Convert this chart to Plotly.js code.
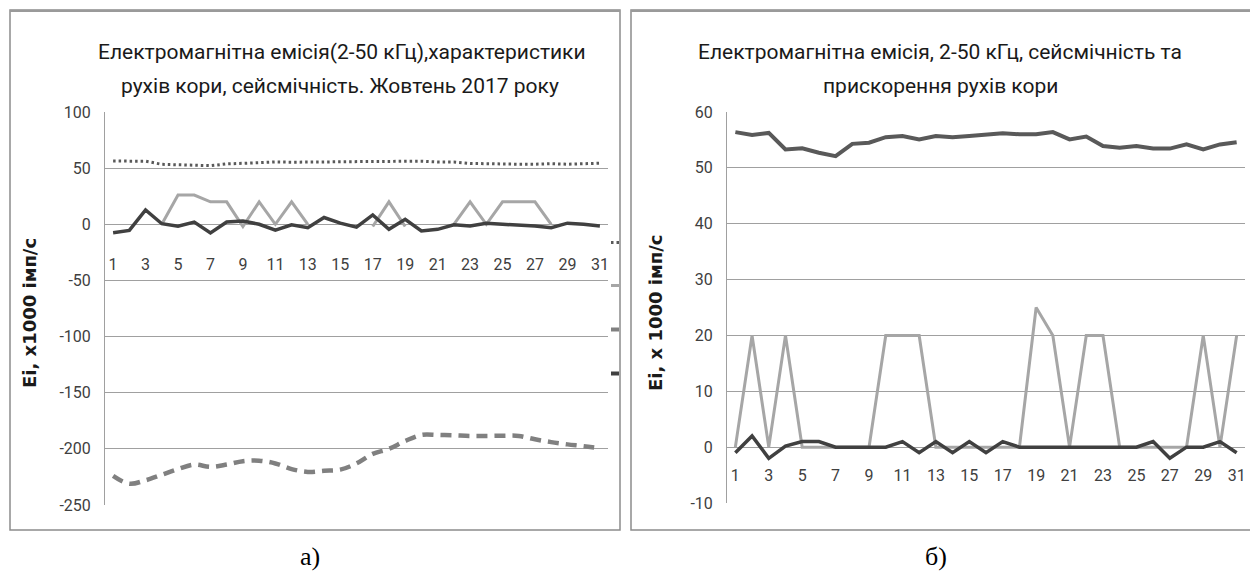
<!DOCTYPE html>
<html><head><meta charset="utf-8">
<script src="https://cdn.plot.ly/plotly-3.0.1.min.js"></script>
<style>html,body{margin:0;padding:0;background:#fff}#chart{width:1250px;height:575px}</style>
</head><body><div id="chart"></div>
<script>
// ---- data ----
const days = [1,2,3,4,5,6,7,8,9,10,11,12,13,14,15,16,17,18,19,20,21,22,23,24,25,26,27,28,29,30,31];
const tickDays = [1,3,5,7,9,11,13,15,17,19,21,23,25,27,29,31];
const tickText = ['1','3','5','7','9','11','13','15','17','19','21','23','25','27','29','31'];
const yTicksA = [-250,-200,-150,-100,-50,0,50,100];
const yTextA = ['-250','-200','-150','-100','-50','0','50','100'];
const yTicksB = [-10,0,10,20,30,40,50,60];
const yTextB = ['-10','0','10','20','30','40','50','60'];
// chart a)
const emissionA = [56.3,56.0,56.2,53.4,53.3,52.6,52.2,53.8,54.3,55.2,55.5,55.3,55.7,55.5,55.7,55.9,56.2,56.1,56.0,56.2,55.5,55.5,54.2,53.8,53.9,53.5,53.5,54.0,53.5,54.1,54.4];
const seismicA = [null,null,null,0,26,26,20,20,-2,20,0,20,0,null,null,null,-2,20,-2,null,null,0,20,0,20,20,20,0,null,null,null];
const crustA = [-224,-231,-228,-223,-218,-214,-216,-214,-211,-210.5,-213,-218,-220.5,-219.5,-218.5,-213,-204.5,-200,-193,-187.6,-187.6,-188,-188.5,-188.5,-188.3,-188.5,-191.5,-194,-196,-197.6,-199.5];
const accelA = [-7.5,-5.5,12.7,0.5,-1.8,2,-7.7,2,3,0,-5.3,-0.5,-3,6,1,-2.5,8.3,-4.5,4.4,-6,-4.5,-0.5,-1.5,1,0,-0.5,-1.5,-3,1,0,-1.5];
// chart б)
const emissionB = [56.4,55.9,56.25,53.3,53.5,52.7,52.1,54.3,54.5,55.5,55.7,55.1,55.7,55.5,55.7,55.95,56.2,56.0,56.0,56.4,55.1,55.6,53.9,53.6,53.9,53.45,53.45,54.2,53.3,54.2,54.6];
const seismicB = [0,20,0,20,0,0,0,0,0,20,20,20,0,0,0,0,0,0,25,20,0,20,20,0,0,0,0,0,20,0,20];
const accelB = [-1,2,-2,0.2,1,1,0,0,0,0,1,-1,1,-1,1,-1,1,0,0,0,0,0,0,0,0,1,-2,0,0,1,-1];

// ---- layout helpers ----
const W = 1250, H = 575;
const px = v => v / W;
const py = v => 1 - v / H;
const tickFont = {family: 'Roboto, "Liberation Sans", sans-serif', size: 16, color: '#404040'};
const titleFont = {family: 'Roboto, "Liberation Sans", sans-serif', size: 21, color: '#1a1a1a'};
const axisTitleFont = {family: '"DejaVu Sans", sans-serif', size: 18, color: '#1a1a1a', weight: 'bold'};
const gridC = '#a0a0a0';

const yA = [py(505), py(112)];
const yB = [py(503), py(112)];

const traces = [
  {x: days, y: crustA, xaxis: 'x', yaxis: 'y', mode: 'lines', line: {color: '#808080', width: 4.5, dash: '11px,7px', shape: 'spline', smoothing: 1}, hoverinfo: 'skip'},
  {x: days, y: emissionA, xaxis: 'x', yaxis: 'y', mode: 'lines', line: {color: '#595959', width: 3, dash: '2.5px,3px'}, hoverinfo: 'skip'},
  {x: days, y: seismicA, xaxis: 'x', yaxis: 'y', mode: 'lines', line: {color: '#a6a6a6', width: 3}, hoverinfo: 'skip'},
  {x: days, y: accelA, xaxis: 'x', yaxis: 'y', mode: 'lines', line: {color: '#404040', width: 3.5}, hoverinfo: 'skip'},
  {x: days, y: emissionB, xaxis: 'x2', yaxis: 'y2', mode: 'lines', line: {color: '#595959', width: 4}, hoverinfo: 'skip'},
  {x: days, y: seismicB, xaxis: 'x2', yaxis: 'y2', mode: 'lines', line: {color: '#a6a6a6', width: 3}, hoverinfo: 'skip'},
  {x: days, y: accelB, xaxis: 'x2', yaxis: 'y2', mode: 'lines', line: {color: '#404040', width: 3.5}, hoverinfo: 'skip'}
];

const xCommon = {range: [0.5, 31.5], tickvals: tickDays, ticktext: tickText, showgrid: false, zeroline: false, showline: false, ticks: '', tickfont: tickFont, anchor: 'free', fixedrange: true};
const yCommon = {showgrid: true, gridcolor: gridC, gridwidth: 1, zeroline: false, showline: true, linecolor: gridC, linewidth: 1, ticks: '', tickfont: tickFont, ticklabelstandoff: 10, fixedrange: true};

const titleLine = (x, y, text) => ({xref: 'paper', yref: 'paper', x: px(x), y: py(y), text: text, showarrow: false, font: titleFont, xanchor: 'center', yanchor: 'middle'});

const layout = {
  width: W, height: H,
  margin: {l: 0, r: 0, t: 0, b: 0},
  paper_bgcolor: '#fff', plot_bgcolor: 'rgba(0,0,0,0)',
  showlegend: false,
  xaxis: Object.assign({}, xCommon, {domain: [px(105), px(608)], position: yA[0] + (yA[1]-yA[0]) * 250/350, ticklabelstandoff: 29}),
  yaxis: Object.assign({}, yCommon, {domain: yA, range: [-250, 100], tickvals: yTicksA, ticktext: yTextA}),
  xaxis2: Object.assign({}, xCommon, {domain: [px(727), px(1245)], position: yB[0] + (yB[1]-yB[0]) * 10/70, ticklabelstandoff: 17}),
  yaxis2: Object.assign({}, yCommon, {domain: yB, range: [-10, 60], anchor: 'x2', tickvals: yTicksB, ticktext: yTextB}),
  shapes: [
    {type: 'rect', xref: 'paper', yref: 'paper', x0: px(10), x1: px(620), y0: py(530), y1: py(10), line: {color: '#8c8c8c', width: 1.5}},
    {type: 'rect', xref: 'paper', yref: 'paper', x0: px(631), x1: px(1260), y0: py(530), y1: py(10), line: {color: '#8c8c8c', width: 1.5}},
    {type: 'line', xref: 'paper', yref: 'paper', x0: px(10), x1: px(620), y0: py(11), y1: py(11), line: {color: '#9a9a9a', width: 2}},
    {type: 'line', xref: 'paper', yref: 'paper', x0: px(631), x1: px(1250), y0: py(11), y1: py(11), line: {color: '#9a9a9a', width: 2}},
    // clipped legend keys of chart a)
    {type: 'line', xref: 'paper', yref: 'paper', x0: px(611), x1: px(619), y0: py(242.5), y1: py(242.5), line: {color: '#595959', width: 3, dash: '2.5px,3px'}},
    {type: 'line', xref: 'paper', yref: 'paper', x0: px(611), x1: px(619), y0: py(285.5), y1: py(285.5), line: {color: '#a6a6a6', width: 3}},
    {type: 'line', xref: 'paper', yref: 'paper', x0: px(611), x1: px(619), y0: py(329.5), y1: py(329.5), line: {color: '#808080', width: 4}},
    {type: 'line', xref: 'paper', yref: 'paper', x0: px(611), x1: px(619), y0: py(373.5), y1: py(373.5), line: {color: '#404040', width: 4}}
  ],
  annotations: [
    titleLine(342, 52, 'Електромагнітна емісія(2-50 кГц),характеристики'),
    titleLine(340, 86, 'рухів кори, сейсмічність. Жовтень 2017 року'),
    titleLine(940, 52, 'Електромагнітна емісія, 2-50 кГц, сейсмічність та'),
    titleLine(940, 86, 'прискорення рухів кори'),
    {xref: 'paper', yref: 'paper', x: px(29), y: py(313), text: 'Ei, x1000 імп/с', textangle: -90, showarrow: false, font: axisTitleFont, xanchor: 'center', yanchor: 'middle'},
    {xref: 'paper', yref: 'paper', x: px(655), y: py(313), text: 'Ei, x 1000 імп/с', textangle: -90, showarrow: false, font: axisTitleFont, xanchor: 'center', yanchor: 'middle'},
    {xref: 'paper', yref: 'paper', x: px(310), y: py(556), text: 'а)', showarrow: false, font: {family: '"Liberation Serif", serif', size: 26, color: '#000'}, xanchor: 'center', yanchor: 'middle'},
    {xref: 'paper', yref: 'paper', x: px(936), y: py(556), text: 'б)', showarrow: false, font: {family: '"Liberation Serif", serif', size: 26, color: '#000'}, xanchor: 'center', yanchor: 'middle'}
  ]
};

Plotly.newPlot('chart', traces, layout, {staticPlot: true, displayModeBar: false});
</script>
</body></html>
